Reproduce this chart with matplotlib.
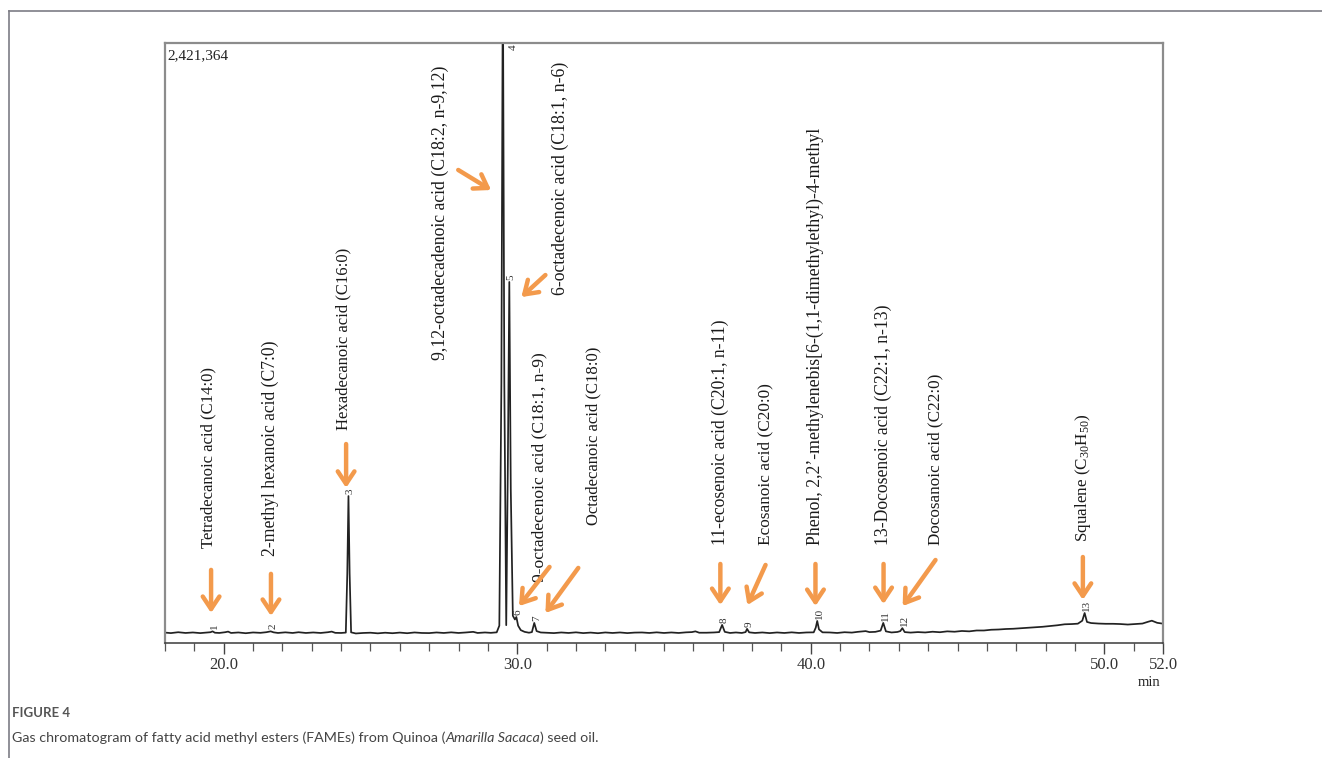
import matplotlib.pyplot as plt
from matplotlib.lines import Line2D

plt.rcParams['font.family'] = ['Liberation Serif', 'DejaVu Serif']
plt.rcParams['mathtext.fontset'] = 'custom'
plt.rcParams['mathtext.rm'] = 'Liberation Serif'

Y_TOP = 2421364
ORANGE = '#F39A4C'

# retention time (min) and detector response (thousand counts)
RT = [18.00, 18.20, 18.45, 18.70, 18.95, 19.20, 19.40, 19.55, 19.62, 19.70,
      19.85, 20.05, 20.15, 20.25, 20.50, 20.75, 21.00, 21.25, 21.45, 21.60,
      21.70, 21.85, 22.10, 22.35, 22.55, 22.80, 23.05, 23.30, 23.55, 23.68,
      23.80, 24.00, 24.16, 24.21, 24.25, 24.29, 24.34, 24.50, 24.75, 25.00,
      25.25, 25.50, 25.75, 26.00, 26.25, 26.50, 26.75, 27.00, 27.25, 27.50,
      27.75, 28.00, 28.25, 28.50, 28.65, 28.90, 29.10, 29.30, 29.39, 29.46,
      29.51, 29.56, 29.625, 29.68, 29.73, 29.78, 29.85, 29.92, 29.97, 30.03,
      30.12, 30.25, 30.40, 30.50, 30.58, 30.66, 30.80, 31.00, 31.25, 31.50,
      31.75, 32.00, 32.25, 32.50, 32.75, 33.00, 33.25, 33.50, 33.75, 34.00,
      34.25, 34.50, 34.75, 35.00, 35.25, 35.50, 35.75, 35.95, 36.07, 36.20,
      36.45, 36.70, 36.88, 36.98, 37.07, 37.25, 37.45, 37.65, 37.78, 37.83,
      37.90, 38.10, 38.35, 38.60, 38.85, 39.10, 39.35, 39.60, 39.85, 40.10,
      40.17, 40.22, 40.28, 40.40, 40.65, 40.90, 41.15, 41.40, 41.60, 41.87,
      42.00, 42.20, 42.38, 42.47, 42.56, 42.75, 42.95, 43.05, 43.12, 43.20,
      43.40, 43.65, 43.90, 44.15, 44.40, 44.65, 44.90, 45.15, 45.40, 45.65,
      45.90, 46.15, 46.40, 46.65, 46.90, 47.15, 47.40, 47.65, 47.90, 48.15,
      48.40, 48.65, 48.90, 49.10, 49.25, 49.33, 49.41, 49.55, 49.80, 50.05,
      50.30, 50.55, 50.80, 51.05, 51.30, 51.50, 51.62, 51.80, 52.00]
SIGNAL_K = [42, 40, 43.5, 40.5, 42.5, 40, 42, 43.5, 47, 41.5,
            40.5, 43.5, 46, 40.5, 42.5, 39.5, 42.5, 41, 43.5, 47,
            43, 40.5, 43, 40.5, 43.5, 40.5, 42.5, 40.5, 43.5, 46,
            41, 40.5, 42, 280, 593, 280, 43, 38.5, 40.5, 41.5,
            39, 41.5, 39.5, 42, 39.5, 42.5, 40.5, 40, 42.5, 40.5,
            43, 40.5, 42.5, 45, 40.5, 42.5, 41, 43, 70, 1050,
            2750, 1050, 72, 720, 1457, 620, 110, 95, 105, 70,
            52, 45, 41.5, 44, 81, 48, 42.5, 41.5, 40, 42.5,
            40.5, 43, 40, 42, 39.5, 42.5, 40.5, 42.5, 40, 42,
            42.5, 40.5, 43, 40.5, 42.5, 40.5, 43, 44, 47, 41.5,
            41.5, 42.5, 44, 73, 45, 40.5, 42.5, 40.5, 44, 57,
            43, 40.5, 42.5, 40, 42.5, 40.5, 43, 40.5, 42.5, 43,
            62, 89, 55, 43, 42.5, 40.5, 43.5, 42, 45, 48,
            44, 45, 50, 81, 47, 42.5, 44.5, 48, 60, 44,
            42, 44, 42.5, 45.5, 43.5, 47, 45.5, 48.5, 47, 50.5,
            50.5, 53.5, 54.5, 56.5, 57.5, 59.5, 61.5, 63.5, 65.5, 68.5,
            71.5, 75.5, 76.5, 78, 90, 121, 85, 80.5, 78.5, 77.5,
            77.5, 76.5, 74.5, 76.5, 78.5, 86, 90, 81.5, 78]

# numbered peaks: retention time and apex (thousand counts)
PEAK_NO = ['1', '2', '3', '4', '5', '6', '7', '8', '9', '10', '11', '12', '13']
PEAK_RT = [19.62, 21.60, 24.25, 29.51, 29.73, 29.97, 30.58, 36.98, 37.83,
           40.22, 42.47, 43.12, 49.33]
PEAK_TOP_K = [47, 47, 593, 2750, 1457, 105, 81, 73, 57, 89, 81, 60, 121]

COMPOUNDS = [
    'Tetradecanoic acid (C14:0)',
    '2-methyl hexanoic acid (C7:0)',
    'Hexadecanoic acid (C16:0)',
    '9,12-octadecadenoic acid (C18:2, n-9,12)',
    '6-octadecenoic acid (C18:1, n-6)',
    '9-octadecenoic acid (C18:1, n-9)',
    'Octadecanoic acid (C18:0)',
    '11-ecosenoic acid (C20:1, n-11)',
    'Ecosanoic acid (C20:0)',
    'Phenol, 2,2\u2019-methylenebis[6-(1,1-dimethylethyl)-4-methyl',
    '13-Docosenoic acid (C22:1, n-13)',
    'Docosanoic acid (C22:0)',
    r'Squalene (C$\mathregular{_{30}}$H$\mathregular{_{50}}$)',
]
# where each name sits (bottom end of the rotated text) and its size
LABEL_RT = [19.47, 21.58, 24.07, 27.38, 31.47, 30.74, 32.59, 36.92, 38.46,
            40.16, 42.48, 44.25, 49.27]
LABEL_BASE_K = [383, 351, 860, 1142, 1404, 246, 476, 395, 395, 395, 395,
                395, 407]
LABEL_SIZE = [12.0, 12.7, 12.0, 12.8, 12.8, 12.6, 12.0, 12.7, 12.4, 12.8,
              12.7, 12.3, 12.3]
# arrow tail and head for each name
ARROW_FROM = [(19.57, 295), (21.61, 279), (24.17, 803), (27.99, 1909),
              (30.96, 1485), (31.10, 307), (32.08, 303), (36.92, 319),
              (38.46, 315), (40.16, 319), (42.48, 319), (44.25, 335),
              (49.27, 347)]
ARROW_TO = [(19.57, 121), (21.61, 109), (24.17, 626), (29.11, 1828),
            (30.14, 1396), (30.06, 149), (30.96, 121), (36.92, 153),
            (37.84, 153), (40.16, 149), (42.48, 157), (43.13, 149),
            (49.27, 174)]


def main():
    fig = plt.figure(figsize=(13.22, 7.58), dpi=100)
    ax = fig.add_axes([165 / 1322, 115 / 758, 998 / 1322, 600 / 758])

    ax.plot(RT, [v * 1000 for v in SIGNAL_K], color='#222222', lw=1.25)
    ax.set_xlim(18, 52)
    ax.set_ylim(0, Y_TOP)

    ax.set_yticks([])
    ax.set_xticks([20, 30, 40, 50, 52])
    ax.set_xticklabels(['20.0', '30.0', '40.0', '50.0', '52.0'], fontsize=12)
    ax.set_xticks(range(18, 53), minor=True)
    ax.tick_params(axis='x', which='major', length=8, width=1.0,
                   color='#444444', pad=2, labelcolor='#333333')
    ax.tick_params(axis='x', which='minor', length=6, width=0.9,
                   color='#555555')
    for side in ['left', 'top', 'right']:
        ax.spines[side].set_color('#8c8c8c')
        ax.spines[side].set_linewidth(1.6)
    ax.spines['bottom'].set_color('#3a3a3a')
    ax.spines['bottom'].set_linewidth(1.1)

    ax.text(0.002, 0.99, '2,421,364', transform=ax.transAxes, fontsize=11,
            ha='left', va='top', color='#222222')
    ax.text(0.986, -0.066, 'min', transform=ax.transAxes, fontsize=10.5,
            ha='center', va='center', color='#222222')

    # peak numbers just above each apex
    for no, rt, top in zip(PEAK_NO, PEAK_RT, PEAK_TOP_K):
        if top * 1000 > Y_TOP:
            ax.annotate(no, xy=(rt, Y_TOP), xytext=(10, -1),
                        textcoords='offset pixels', rotation=90,
                        ha='center', va='top', fontsize=8,
                        color='#333333')
        else:
            ax.annotate(no, xy=(rt, top * 1000), xytext=(2, 2),
                        textcoords='offset pixels', rotation=90,
                        ha='center', va='bottom', fontsize=8,
                        color='#333333')

    for name, rt, base, size in zip(COMPOUNDS, LABEL_RT, LABEL_BASE_K,
                                    LABEL_SIZE):
        ax.text(rt, base * 1000, name, rotation=90, ha='center',
                va='bottom', fontsize=size, color='#1a1a1a')

    for (x0, y0), (x1, y1) in zip(ARROW_FROM, ARROW_TO):
        ax.annotate('', xy=(x1, y1 * 1000), xytext=(x0, y0 * 1000),
                    arrowprops=dict(arrowstyle='->,head_length=0.45,head_width=0.3',
                                    color=ORANGE, lw=3.2, shrinkA=0,
                                    shrinkB=0, mutation_scale=20,
                                    capstyle='round', joinstyle='round'))

    # page frame around figure and caption
    fig.add_artist(Line2D([9 / 1322, 1.0], [1 - 11 / 758] * 2,
                          transform=fig.transFigure, color='#7d7d85', lw=1.2))
    fig.add_artist(Line2D([9 / 1322] * 2, [0.0, 1 - 11 / 758],
                          transform=fig.transFigure, color='#7d7d85', lw=1.2))

    cap_font = ['Lato', 'DejaVu Sans']
    fig.text(12 / 1322, 1 - 713 / 758, 'FIGURE 4', family=cap_font,
             fontsize=9.5, color='#555555', va='center', weight='bold')
    part1 = fig.text(12 / 1322, 1 - 744 / 758,
                     'Gas chromatogram of fatty acid methyl esters (FAMEs) '
                     'from Quinoa (', family=cap_font, fontsize=10.3,
                     color='#444444', va='bottom')
    part2 = ax.annotate('Amarilla Sacaca', xy=(1, 0), xycoords=part1,
                        family=cap_font, fontsize=10.3, style='italic',
                        color='#444444', va='bottom', ha='left',
                        annotation_clip=False)
    ax.annotate(') seed oil.', xy=(1, 0), xycoords=part2, family=cap_font,
                fontsize=10.3, color='#444444', va='bottom', ha='left',
                annotation_clip=False)

    fig.savefig('out.png', dpi=100)


if __name__ == '__main__':
    main()
